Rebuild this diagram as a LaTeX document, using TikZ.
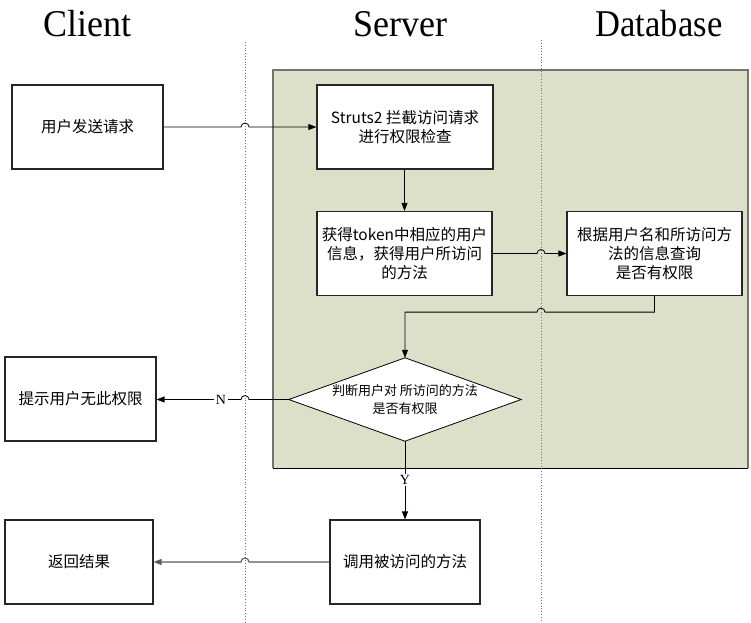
\documentclass[tikz,border=0pt]{standalone}
\usepackage{fontspec}
\usetikzlibrary{arrows.meta,calc}
\newfontfamily\cjk{Noto Sans CJK SC}
\newfontfamily\seriff{Liberation Serif}
\definecolor{srvgreen}{RGB}{220,224,200}
\tikzset{
  box/.style={draw=black!85,line width=1.2pt,fill=white,minimum width=#1,minimum height=84pt,inner sep=2pt,align=center,font=\cjk\fontsize{15.5}{19}\selectfont},
  box/.default=151pt,
  arr/.style={line width=0.8pt,-{Triangle[length=8pt,width=6pt]}},
  lane/.style={draw=black!55,dotted,line width=0.8pt},
  title/.style={font=\seriff\fontsize{36}{40}\selectfont,inner sep=0pt,anchor=base},
  lbl/.style={font=\seriff\fontsize{14}{16}\selectfont,fill=white,inner sep=1.5pt},
}
\begin{document}
\begin{tikzpicture}[x=1pt,y=-1pt]
\useasboundingbox (0,0) rectangle (751,622);
% server region
\fill[srvgreen] (273,70) rectangle (748,468);
\draw[black!55,line width=1.6pt] (273,468) -- (273,70) -- (748,70) -- (748,468);
\draw[black,line width=0.8pt] (273,468) -- (748,468);
% titles
\node[title] (tc) at (87,36) {\scalebox{1}[1.05]{Client}};
\node[title] (ts) at (400,36) {\scalebox{1}[1.05]{Server}};
\node[title] (td) at (659,36) {\scalebox{0.96}[1.05]{Database}};
% lanes
\coordinate (L1) at (245,42);
\coordinate (L2) at (541,40);
\draw[lane] (L1) -- (245,622);
\draw[lane] (L2) -- (541,622);
% boxes
\node[box] (req) at (87.5,127) {用户发送请求};
\node[box=176pt] (s2) at (405,127) {Struts2 拦截访问请求\\进行权限检查};
\node[box=175pt] (tok) at (404.5,253.5) {获得token中相应的用户\\信息，获得用户所访问\\的方法};
\node[box=175pt] (db) at (654.5,253.5) {根据用户名和所访问方\\法的信息查询\\是否有权限};
\node[box] (deny) at (80.5,399) {提示用户无此权限};
\node[box=150pt] (call) at (405,562) {调用被访问的方法};
\node[box=148pt] (ret) at (79,562) {返回结果};
% decision
\node[minimum width=232pt,minimum height=83pt,inner sep=0pt] (dia) at (405,399.5) {};
\draw[black,line width=0.8pt,fill=white] (dia.west) -- (dia.north) -- (dia.east) -- (dia.south) -- cycle;
\node[align=center,inner sep=0pt,font=\cjk\fontsize{13}{18}\selectfont] (diat) at (dia.center) {判断用户对 所访问的方法\\是否有权限};
% connectors
\draw[arr] (req.east) -- ([xshift=-4pt]req.east -| L1) arc[start angle=180,end angle=0,radius=4pt] -- (s2.west |- req.east);
\draw[arr] (s2.south -| tok.north) -- (tok.north);
\draw[arr] (tok.east) -- ([xshift=-4pt]tok.east -| L2) arc[start angle=180,end angle=0,radius=4pt] -- (db.west);
\path (db.south) ++(0,16) coordinate (t1);
\draw[arr] (db.south) -- (t1) -- ([xshift=4pt]t1 -| L2) arc[start angle=0,end angle=180,radius=4pt] -- (t1 -| dia.north) -- (dia.north);
\draw[arr] (dia.west) -- ([xshift=4pt]dia.west -| L1) arc[start angle=0,end angle=180,radius=4pt] -- (deny.east |- dia.west);
\node[lbl] (nl) at (221,399.5) {N};
\draw[arr] (dia.south) -- (call.north);
\node[lbl] (yl) at (405,480) {Y};
\draw[arr,draw=black!65,line width=1.1pt] (call.west) -- ([xshift=4pt]call.west -| L1) arc[start angle=0,end angle=180,radius=4pt] -- (ret.east);
\end{tikzpicture}
\end{document}
